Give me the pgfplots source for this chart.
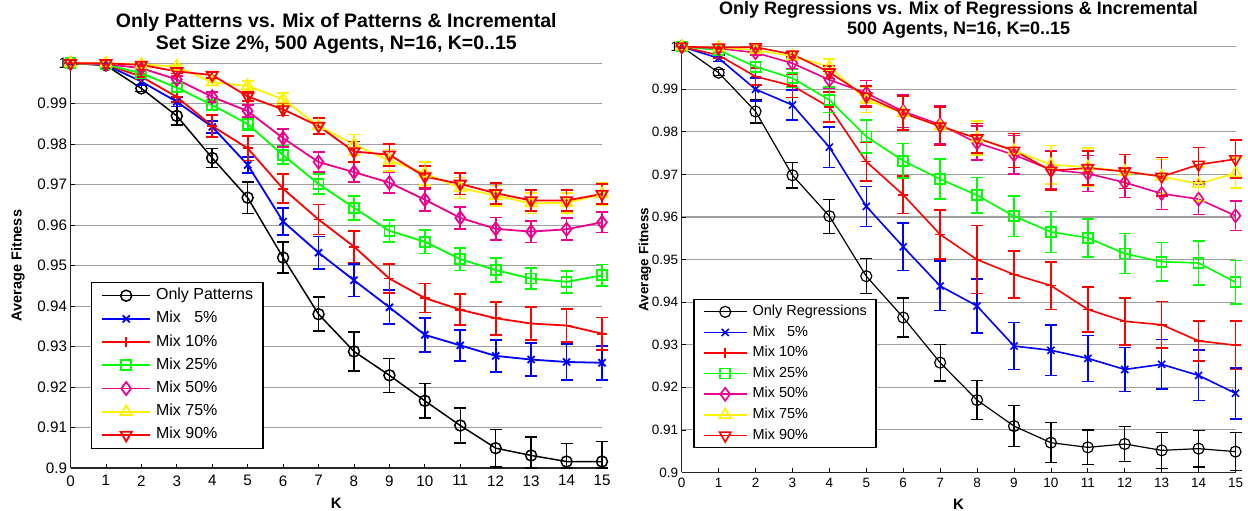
\documentclass[border=0pt]{standalone}
\usepackage{fontspec}
\setmainfont{Liberation Sans}
\usepackage{pgfplots}
\pgfplotsset{compat=1.18}

\definecolor{gridgray}{gray}{0.62}

\pgfplotsset{
  every axis title shift=0pt,
  fitpanel/.style={
    scale only axis,
    xmin=0, xmax=15, ymin=0.9, ymax=1,
    xtick={0,...,15},
    ytick={0.9,0.91,0.92,0.93,0.94,0.95,0.96,0.97,0.98,0.99,1},
    yticklabels={0.9,0.91,0.92,0.93,0.94,0.95,0.96,0.97,0.98,0.99,1},
    /pgf/number format/assume math mode=true,
    axis lines*=left,
    axis line style={line width=1.1pt, black!85},
    tick align=inside,
    major tick length=4pt,
    tick style={black, line width=0.8pt},
    ymajorgrids=true,
    major grid style={gridgray, line width=1.1pt},
    clip=false,
    xlabel={K},
    ylabel={Average Fitness},
    error bars/y dir=both,
    error bars/y explicit,
    legend cell align=left,
    legend image code/.code={%
      \draw[mark repeat=2, mark phase=2] plot coordinates {(0pt,0pt) (24pt,0pt) (48pt,0pt)};},
  },
  ser/.style={
    line width=#1, mark options={solid, line width=#1},
    error bars/error bar style={line width=#1},
    error bars/error mark options={rotate=90, mark size=6pt, line width=#1},
  },
}

\begin{document}
\begin{tikzpicture}
\path[use as bounding box] (0pt,0pt) rectangle (1248pt,511pt);

% ---------------- left panel: patterns ----------------
\begin{axis}[fitpanel,
  at={(70.5pt,43pt)}, anchor=south west,
  width=531.5pt, height=404.7pt,
  title={Only Patterns vs. Mix of Patterns \& Incremental\\Set Size 2\%, 500 Agents, N=16, K=0..15},
  title style={at={(0.5,1)}, anchor=south, yshift=9pt, inner sep=0pt, align=center,
    font=\fontsize{19.5}{22.7}\bfseries\selectfont},
  tick label style={font=\fontsize{15.2}{18}\selectfont},
  xticklabel style={yshift=-4pt},
  xlabel style={at={(axis description cs:0.5,-0.0865)}, anchor=center,
    font=\fontsize{15}{17}\bfseries\selectfont},
  ylabel style={at={(axis description cs:-0.0988,0.5)}, anchor=center,
    font=\fontsize{14.5}{17}\bfseries\selectfont},
  legend style={at={(0.038,0.4603)}, anchor=north west, draw=black, line width=1.2pt,
    fill=white, inner xsep=10pt, inner ysep=5.4pt, row sep=7.2pt, column sep=5pt,
    font=\fontsize{16}{19}\selectfont,
    nodes={inner sep=0pt, text height=12pt, text depth=4pt}},
]
\addplot[black, ser=1.5pt, mark=o, mark size=5.5pt]
  table[x=K, y=v, y error plus=ep, y error minus=em] {
K v ep em
0 1.0000 0.0002 0.0002
1 0.9995 0.0004 0.0004
2 0.9938 0.0008 0.0008
3 0.9870 0.0023 0.0023
4 0.9766 0.0023 0.0023
5 0.9668 0.0039 0.0039
6 0.9520 0.0038 0.0038
7 0.9380 0.0042 0.0042
8 0.9288 0.0048 0.0048
9 0.9229 0.0042 0.0042
10 0.9166 0.0043 0.0043
11 0.9105 0.0043 0.0043
12 0.9049 0.0046 0.0046
13 0.9031 0.0045 0.0031
14 0.9016 0.0045 0.0016
15 0.9016 0.0050 0.0016
};
\addlegendentry{Only Patterns}
\addplot[blue, ser=1.8pt, mark=x, mark size=5pt]
  table[x=K, y=v, y error=e] {
K v e
0 1.0000 0.0002
1 0.9996 0.0003
2 0.9955 0.0008
3 0.9905 0.0012
4 0.9843 0.0015
5 0.9749 0.0020
6 0.9609 0.0034
7 0.9532 0.0040
8 0.9464 0.0040
9 0.9397 0.0042
10 0.9329 0.0042
11 0.9303 0.0038
12 0.9277 0.0040
13 0.9268 0.0040
14 0.9262 0.0044
15 0.9260 0.0042
};
\addlegendentry{Mix \phantom{1}5\%}
\addplot[red, ser=1.8pt, mark=+, mark size=5pt]
  table[x=K, y=v, y error=e] {
K v e
0 1.0000 0.0002
1 0.9997 0.0003
2 0.9967 0.0007
3 0.9917 0.0012
4 0.9845 0.0027
5 0.9790 0.0030
6 0.9690 0.0036
7 0.9614 0.0037
8 0.9547 0.0039
9 0.9468 0.0036
10 0.9420 0.0036
11 0.9391 0.0038
12 0.9370 0.0041
13 0.9357 0.0040
14 0.9352 0.0040
15 0.9332 0.0040
};
\addlegendentry{Mix 10\%}
\addplot[green, ser=1.8pt, mark=square, mark size=5pt]
  table[x=K, y=v, y error=e] {
K v e
0 1.0000 0.0002
1 0.9997 0.0003
2 0.9975 0.0005
3 0.9940 0.0010
4 0.9897 0.0012
5 0.9850 0.0015
6 0.9773 0.0022
7 0.9702 0.0025
8 0.9643 0.0030
9 0.9586 0.0027
10 0.9559 0.0029
11 0.9516 0.0028
12 0.9489 0.0029
13 0.9468 0.0026
14 0.9460 0.0027
15 0.9476 0.0027
};
\addlegendentry{Mix 25\%}
\addplot[magenta, ser=1.8pt, mark=diamond, mark size=6.5pt]
  table[x=K, y=v, y error=e] {
K v e
0 1.0000 0.0002
1 0.9998 0.0002
2 0.9988 0.0004
3 0.9960 0.0008
4 0.9917 0.0012
5 0.9882 0.0015
6 0.9815 0.0022
7 0.9756 0.0025
8 0.9731 0.0025
9 0.9705 0.0025
10 0.9663 0.0027
11 0.9618 0.0027
12 0.9591 0.0028
13 0.9584 0.0027
14 0.9590 0.0027
15 0.9607 0.0025
};
\addlegendentry{Mix 50\%}
\addplot[yellow, ser=1.8pt, mark=triangle, mark size=6.5pt]
  table[x=K, y=v, y error=e] {
K v e
0 1.0000 0.0002
1 1.0000 0.0002
2 0.9997 0.0003
3 0.9992 0.0005
4 0.9953 0.0008
5 0.9944 0.0012
6 0.9911 0.0015
7 0.9845 0.0020
8 0.9799 0.0025
9 0.9760 0.0027
10 0.9728 0.0028
11 0.9692 0.0026
12 0.9673 0.0025
13 0.9654 0.0025
14 0.9655 0.0025
15 0.9677 0.0028
};
\addlegendentry{Mix 75\%}
\addplot[red, ser=1.8pt, mark=triangle, mark size=6.5pt, mark options={rotate=180}]
  table[x=K, y=v, y error=e] {
K v e
0 1.0000 0.0002
1 1.0000 0.0002
2 0.9996 0.0003
3 0.9980 0.0005
4 0.9971 0.0007
5 0.9918 0.0012
6 0.9886 0.0015
7 0.9845 0.0020
8 0.9782 0.0025
9 0.9774 0.0027
10 0.9720 0.0027
11 0.9702 0.0026
12 0.9679 0.0026
13 0.9661 0.0025
14 0.9661 0.0025
15 0.9677 0.0025
};
\addlegendentry{Mix 90\%}
\end{axis}

% ---------------- right panel: regressions ----------------
\begin{axis}[fitpanel,
  at={(681.7pt,38.5pt)}, anchor=south west,
  width=553.8pt, height=425.8pt,
  title={Only Regressions vs. Mix of Regressions \& Incremental\\500 Agents, N=16, K=0..15},
  title style={at={(0.5,1)}, anchor=south, yshift=8.6pt, inner sep=0pt, align=center,
    font=\fontsize{18}{19.5}\bfseries\selectfont},
  tick label style={font=\fontsize{13.5}{16}\selectfont},
  xticklabel style={yshift=-2pt},
  xlabel style={at={(axis description cs:0.5,-0.074)}, anchor=center,
    font=\fontsize{15}{17}\bfseries\selectfont},
  ylabel style={at={(axis description cs:-0.0663,0.5)}, anchor=center,
    font=\fontsize{13.5}{16}\bfseries\selectfont},
  legend style={at={(0.021,0.4075)}, anchor=north west, draw=black, line width=1.2pt,
    fill=white, inner xsep=9pt, inner ysep=5pt, row sep=6.1pt, column sep=5pt,
    font=\fontsize{14.5}{17}\selectfont,
    nodes={inner sep=0pt, text height=11pt, text depth=3.5pt}},
  legend image code/.code={%
    \draw[mark repeat=2, mark phase=2] plot coordinates {(0pt,0pt) (21.5pt,0pt) (43pt,0pt)};},
]
\addplot[black, ser=1.2pt, mark=o, mark size=5.5pt]
  table[x=K, y=v, y error=e] {
K v e
0 1.0000 0.0002
1 0.9939 0.0007
2 0.9848 0.0027
3 0.9698 0.0030
4 0.9602 0.0040
5 0.9461 0.0041
6 0.9364 0.0046
7 0.9258 0.0043
8 0.9170 0.0046
9 0.9109 0.0048
10 0.9070 0.0047
11 0.9059 0.0041
12 0.9067 0.0041
13 0.9052 0.0042
14 0.9056 0.0043
15 0.9049 0.0045
};
\addlegendentry{Only Regressions}
\addplot[blue, ser=1.6pt, mark=x, mark size=5pt]
  table[x=K, y=v, y error=e] {
K v e
0 1.0000 0.0002
1 0.9973 0.0008
2 0.9900 0.0027
3 0.9863 0.0035
4 0.9764 0.0048
5 0.9625 0.0047
6 0.9530 0.0056
7 0.9438 0.0058
8 0.9391 0.0064
9 0.9297 0.0055
10 0.9287 0.0059
11 0.9268 0.0054
12 0.9242 0.0052
13 0.9254 0.0058
14 0.9228 0.0059
15 0.9186 0.0060
};
\addlegendentry{Mix \phantom{1}5\%}
\addplot[red, ser=1.6pt, mark=+, mark size=5pt]
  table[x=K, y=v, y error=e] {
K v e
0 1.0000 0.0002
1 0.9980 0.0006
2 0.9930 0.0020
3 0.9908 0.0027
4 0.9858 0.0035
5 0.9730 0.0045
6 0.9652 0.0044
7 0.9559 0.0057
8 0.9500 0.0080
9 0.9465 0.0055
10 0.9439 0.0056
11 0.9383 0.0053
12 0.9355 0.0055
13 0.9347 0.0055
14 0.9309 0.0047
15 0.9299 0.0057
};
\addlegendentry{Mix 10\%}
\addplot[green, ser=1.6pt, mark=square, mark size=5pt]
  table[x=K, y=v, y error=e] {
K v e
0 1.0000 0.0002
1 0.9992 0.0004
2 0.9953 0.0012
3 0.9926 0.0020
4 0.9875 0.0030
5 0.9789 0.0039
6 0.9732 0.0041
7 0.9689 0.0047
8 0.9651 0.0042
9 0.9602 0.0048
10 0.9565 0.0048
11 0.9551 0.0045
12 0.9514 0.0047
13 0.9495 0.0045
14 0.9492 0.0052
15 0.9447 0.0051
};
\addlegendentry{Mix 25\%}
\addplot[magenta, ser=1.6pt, mark=diamond, mark size=6.5pt]
  table[x=K, y=v, y error=e] {
K v e
0 1.0000 0.0002
1 0.9996 0.0003
2 0.9986 0.0006
3 0.9961 0.0012
4 0.9922 0.0020
5 0.9891 0.0030
6 0.9848 0.0038
7 0.9817 0.0045
8 0.9774 0.0040
9 0.9746 0.0045
10 0.9711 0.0045
11 0.9702 0.0042
12 0.9681 0.0035
13 0.9655 0.0037
14 0.9642 0.0036
15 0.9603 0.0035
};
\addlegendentry{Mix 50\%}
\addplot[yellow, ser=1.6pt, mark=triangle, mark size=6.5pt]
  table[x=K, y=v, y error=e] {
K v e
0 1.0000 0.0002
1 0.9998 0.0003
2 0.9992 0.0006
3 0.9978 0.0010
4 0.9953 0.0018
5 0.9875 0.0030
6 0.9844 0.0040
7 0.9813 0.0045
8 0.9785 0.0040
9 0.9756 0.0040
10 0.9723 0.0045
11 0.9717 0.0045
12 0.9707 0.0040
13 0.9695 0.0040
14 0.9678 0.0040
15 0.9703 0.0035
};
\addlegendentry{Mix 75\%}
\addplot[red, ser=1.6pt, mark=triangle, mark size=6.5pt, mark options={rotate=180}]
  table[x=K, y=v, y error=e] {
K v e
0 1.0000 0.0002
1 0.9998 0.0003
2 0.9999 0.0004
3 0.9982 0.0006
4 0.9940 0.0015
5 0.9883 0.0025
6 0.9844 0.0040
7 0.9813 0.0045
8 0.9785 0.0035
9 0.9756 0.0040
10 0.9709 0.0045
11 0.9715 0.0040
12 0.9707 0.0040
13 0.9695 0.0045
14 0.9723 0.0040
15 0.9736 0.0045
};
\addlegendentry{Mix 90\%}
\end{axis}
\end{tikzpicture}
\end{document}
